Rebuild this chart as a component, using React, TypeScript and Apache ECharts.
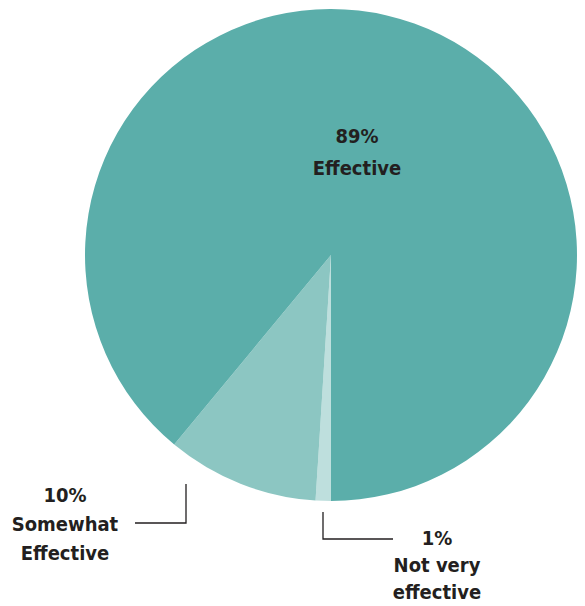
import React, { useEffect, useRef } from "react";
import * as echarts from "echarts";

const categories = ["Not very\neffective", "Somewhat\nEffective", "Effective"];
const values = [1, 10, 89];
const colors = ["#BEDFDD", "#8CC6C2", "#5BAEAA"];

const FONT = "'DejaVu Sans Condensed', 'Liberation Sans Narrow', sans-serif";

export default function App() {
  const ref = useRef<HTMLDivElement>(null);
  useEffect(() => {
    if (!ref.current) return;
    const chart = echarts.init(ref.current, null, { renderer: "svg" });
    const labelPos: Record<number, any> = {
      0: { x: 437, y: 565, pts: [[323, 512], [323, 539], [393, 539]] },
      1: { x: 65, y: 524, pts: [[186, 484], [186, 523], [135, 523]] },
      2: { x: 357, y: 152, pts: null },
    };
    chart.setOption({
      animation: false,
      backgroundColor: "#ffffff",
      series: [
        {
          type: "pie",
          center: [331, 255],
          radius: 246,
          startAngle: -90,
          clockwise: true,
          avoidLabelOverlap: false,
          itemStyle: { borderWidth: 0 },
          label: {
            show: true,
            formatter: "{c}%\n{b}",
            fontFamily: FONT,
            fontWeight: "bold",
            fontSize: 20,
            lineHeight: 29,
            color: "#231F20",
            align: "center",
          },
          labelLine: { show: true, lineStyle: { color: "#231F20", width: 1.3 } },
          labelLayout: (params: any) => {
            const p = labelPos[params.dataIndex];
            const res: any = { x: p.x, y: p.y, align: "center", verticalAlign: "middle" };
            if (p.pts) res.labelLinePoints = p.pts;
            return res;
          },
          data: categories.map((name, i) => ({
            name,
            value: values[i],
            itemStyle: { color: colors[i] },
            ...(i === 2
              ? { label: { position: "inside", lineHeight: 32 }, labelLine: { show: false } }
              : i === 0
              ? { label: { lineHeight: 27 } }
              : {}),
          })),
        },
      ],
    });
    return () => chart.dispose();
  }, []);
  return (
    <div
      ref={ref}
      style={{ position: "fixed", left: 0, top: 0, width: 585, height: 606 }}
    />
  );
}
